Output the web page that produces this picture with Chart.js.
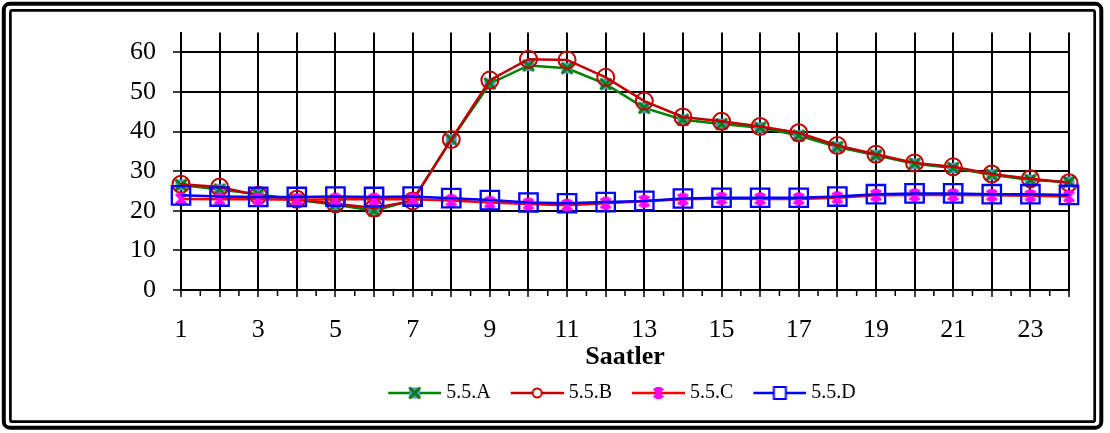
<!DOCTYPE html>
<html>
<head>
<meta charset="utf-8">
<script src="https://cdn.jsdelivr.net/npm/chart.js@4.4.1/dist/chart.umd.min.js"></script>
<style>
  html, body { margin: 0; padding: 0; background: #fff; overflow: hidden; }
  canvas { display: block; }
</style>
</head>
<body>
<canvas id="chart" width="1110" height="433"></canvas>
<script>
// Hours of the day (x categories)
const hours = ['1','2','3','4','5','6','7','8','9','10','11','12',
               '13','14','15','16','17','18','19','20','21','22','23','24'];

// Series names
const seriesNames = ['5.5.A', '5.5.B', '5.5.C', '5.5.D'];

// Hourly values per series
const s55A = [26.5, 25.4, 24.2, 22.8, 21.5, 20.0, 22.7, 38.0, 52.1, 56.7, 56.0, 52.0,
              46.0, 43.0, 41.9, 41.0, 39.0, 36.1, 34.0, 31.9, 30.8, 29.1, 27.8, 27.3];
const s55B = [26.7, 26.0, 23.9, 22.9, 21.8, 20.7, 22.5, 38.0, 53.0, 58.3, 58.1, 53.7,
              47.7, 43.7, 42.6, 41.3, 39.7, 36.5, 34.3, 32.1, 31.1, 29.3, 28.1, 27.1];
const s55C = [23.0, 22.9, 22.9, 22.8, 22.9, 22.9, 22.9, 22.6, 22.1, 21.7, 21.4, 21.9,
              22.4, 22.9, 23.1, 23.0, 23.0, 23.3, 23.9, 24.0, 24.0, 23.9, 23.8, 23.6];
const s55D = [23.9, 23.6, 23.5, 23.5, 23.6, 23.5, 23.6, 23.2, 22.7, 22.1, 21.9, 22.2,
              22.5, 23.1, 23.3, 23.3, 23.3, 23.6, 24.2, 24.4, 24.4, 24.2, 24.2, 24.0];

// Tick labels shown on the axes
const xTickLabels = ['1','3','5','7','9','11','13','15','17','19','21','23'];
const yTickLabels = [0, 10, 20, 30, 40, 50, 60];
const xTitle = 'Saatler';

const FONT = "'Liberation Serif', 'Times New Roman', serif";
const COLORS = {
  a: '#008000', aFill: '#5B8FCC',
  b: '#C00000',
  c: '#FF0000', cMark: '#FF00FF',
  d: '#0000FF'
};

function makeCanvas(w, h) {
  const c = document.createElement('canvas');
  c.width = w; c.height = h;
  return c;
}

// Marker painters
function paintA(ctx, cx, cy, s) {
  ctx.fillStyle = COLORS.aFill;
  ctx.fillRect(cx - s, cy - s, 2 * s, 2 * s);
  ctx.strokeStyle = COLORS.a;
  ctx.lineWidth = 2.6;
  ctx.beginPath();
  ctx.moveTo(cx - s, cy - s); ctx.lineTo(cx + s, cy + s);
  ctx.moveTo(cx + s, cy - s); ctx.lineTo(cx - s, cy + s);
  ctx.stroke();
}
function paintB(ctx, cx, cy, r) {
  ctx.fillStyle = '#fff';
  ctx.strokeStyle = COLORS.b;
  ctx.lineWidth = 2;
  ctx.beginPath();
  ctx.arc(cx, cy, r, 0, Math.PI * 2);
  ctx.fill();
  ctx.stroke();
}
function paintC(ctx, cx, cy, s) {
  ctx.strokeStyle = COLORS.cMark;
  ctx.lineWidth = 3;
  ctx.beginPath();
  ctx.moveTo(cx - s, cy - s); ctx.lineTo(cx + s, cy + s);
  ctx.moveTo(cx + s, cy - s); ctx.lineTo(cx - s, cy + s);
  ctx.moveTo(cx, cy - s); ctx.lineTo(cx, cy + s);
  ctx.moveTo(cx - s * 0.6, cy - s); ctx.lineTo(cx + s * 0.6, cy - s);
  ctx.moveTo(cx - s * 0.6, cy + s); ctx.lineTo(cx + s * 0.6, cy + s);
  ctx.stroke();
}
function paintD(ctx, cx, cy, s) {
  ctx.fillStyle = '#fff';
  ctx.strokeStyle = COLORS.d;
  ctx.lineWidth = 2;
  ctx.fillRect(cx - s, cy - s, 2 * s, 2 * s);
  ctx.strokeRect(cx - s, cy - s, 2 * s, 2 * s);
}

// Point markers for the plot
const markA = (() => { const c = makeCanvas(16, 16); paintA(c.getContext('2d'), 8, 8, 5.5); return c; })();
const markC = (() => { const c = makeCanvas(16, 16); paintC(c.getContext('2d'), 8, 8, 5); return c; })();

// Legend samples: a short line with the marker in its middle
function legendIcon(color, painter, size) {
  const c = makeCanvas(68, 18);
  const ctx = c.getContext('2d');
  ctx.strokeStyle = color;
  ctx.lineWidth = 2.5;
  ctx.beginPath();
  ctx.moveTo(15, 9); ctx.lineTo(68, 9);
  ctx.stroke();
  painter(ctx, 41.5, 9, size);
  return c;
}
const legendIcons = [
  legendIcon(COLORS.a, paintA, 5.5),
  legendIcon(COLORS.b, paintB, 4.5),
  legendIcon(COLORS.c, paintC, 4.5),
  legendIcon(COLORS.d, paintD, 6)
];

// Double frame around the whole figure
const framePlugin = {
  id: 'frame',
  beforeDraw(chart) {
    const ctx = chart.ctx;
    ctx.save();
    ctx.fillStyle = '#fff';
    ctx.fillRect(0, 0, chart.width, chart.height);
    ctx.strokeStyle = '#000';
    ctx.lineWidth = 4;
    ctx.beginPath();
    ctx.roundRect(3.8, 3.8, 1097.5, 423.9, 6);
    ctx.stroke();
    ctx.lineWidth = 2.7;
    ctx.beginPath();
    ctx.roundRect(10.4, 10.4, 1084.3, 411.3, 2);
    ctx.stroke();
    ctx.restore();
  }
};

// Nudge the legend row slightly left of the plot centre
const legendShiftPlugin = {
  id: 'legendShift',
  afterLayout(chart) {
    if (chart.legend) {
      chart.legend.left -= 8;
      chart.legend.right -= 8;
    }
  }
};

// Small tick marks half way between the hour ticks
const minorTicksPlugin = {
  id: 'minorTicks',
  beforeDatasetsDraw(chart) {
    const xs = chart.scales.x;
    const y0 = chart.chartArea.bottom;
    const ctx = chart.ctx;
    ctx.save();
    ctx.strokeStyle = '#000';
    ctx.lineWidth = 1.5;
    ctx.beginPath();
    for (let i = 0; i < hours.length - 1; i++) {
      const px = (xs.getPixelForTick(i) + xs.getPixelForTick(i + 1)) / 2;
      ctx.moveTo(px, y0);
      ctx.lineTo(px, y0 + 6);
    }
    ctx.stroke();
    ctx.restore();
  }
};

new Chart(document.getElementById('chart'), {
  type: 'line',
  data: {
    labels: hours,
    datasets: [
      {
        label: seriesNames[0], data: s55A,
        borderColor: COLORS.a, borderWidth: 2.5,
        pointStyle: markA, pointRadius: 6,
        order: 3, clip: false
      },
      {
        label: seriesNames[1], data: s55B,
        borderColor: COLORS.b, borderWidth: 2.5,
        pointStyle: 'circle', pointRadius: 8.5, pointBorderWidth: 2,
        pointBorderColor: COLORS.b, pointBackgroundColor: 'rgba(0,0,0,0)',
        order: 2, clip: false
      },
      {
        label: seriesNames[2], data: s55C,
        borderColor: COLORS.c, borderWidth: 2.5,
        pointStyle: markC, pointRadius: 6,
        order: 1, clip: false
      },
      {
        label: seriesNames[3], data: s55D,
        borderColor: COLORS.d, borderWidth: 2.5,
        pointStyle: 'rect', pointRadius: 13, pointBorderWidth: 2.3,
        pointBorderColor: COLORS.d, pointBackgroundColor: 'rgba(0,0,0,0)',
        order: 0, clip: false
      }
    ]
  },
  options: {
    responsive: false,
    animation: false,
    devicePixelRatio: 1,
    events: [],
    elements: { line: { tension: 0 } },
    layout: { padding: { left: 0, right: 41, top: 30, bottom: 20 } },
    scales: {
      x: {
        type: 'category',
        offset: false,
        grid: { color: '#000', lineWidth: 2, tickLength: 7, tickColor: '#000', tickWidth: 1.5 },
        border: { display: true, color: '#000', width: 2 },
        ticks: {
          autoSkip: false, maxRotation: 0, minRotation: 0, padding: 18,
          color: '#000', font: { family: FONT, size: 26 },
          callback: (v, i) => xTickLabels.includes(hours[i]) ? hours[i] : ''
        },
        title: {
          display: true, text: xTitle, color: '#000',
          font: { family: FONT, size: 26, weight: 'bold' },
          padding: { top: 0, bottom: 0 }
        },
        afterFit: (s) => { s.height = 83; }
      },
      y: {
        min: 0, max: 65,
        grid: { color: '#000', lineWidth: 2, tickLength: 8, tickColor: '#000', tickWidth: 1.5 },
        border: { display: true, color: '#000', width: 2 },
        ticks: {
          stepSize: 5, padding: 17, color: '#000',
          font: { family: FONT, size: 26 },
          callback: (v) => yTickLabels.includes(v) ? String(v) : ''
        },
        afterFit: (s) => { s.width = 181; }
      }
    },
    plugins: {
      tooltip: { enabled: false },
      legend: {
        position: 'bottom',
        fullSize: false,
        labels: {
          usePointStyle: true,
          pointStyleWidth: 58,
          padding: 10,
          color: '#000',
          font: { family: FONT, size: 20 },
          generateLabels: (chart) => chart.data.datasets.map((ds, i) => ({
            text: ds.label,
            pointStyle: legendIcons[i],
            fillStyle: 'rgba(0,0,0,0)',
            strokeStyle: 'rgba(0,0,0,0)',
            lineWidth: 0,
            fontColor: '#000',
            hidden: false,
            datasetIndex: i
          }))
        }
      }
    }
  },
  plugins: [framePlugin, legendShiftPlugin, minorTicksPlugin]
});
</script>
</body>
</html>
